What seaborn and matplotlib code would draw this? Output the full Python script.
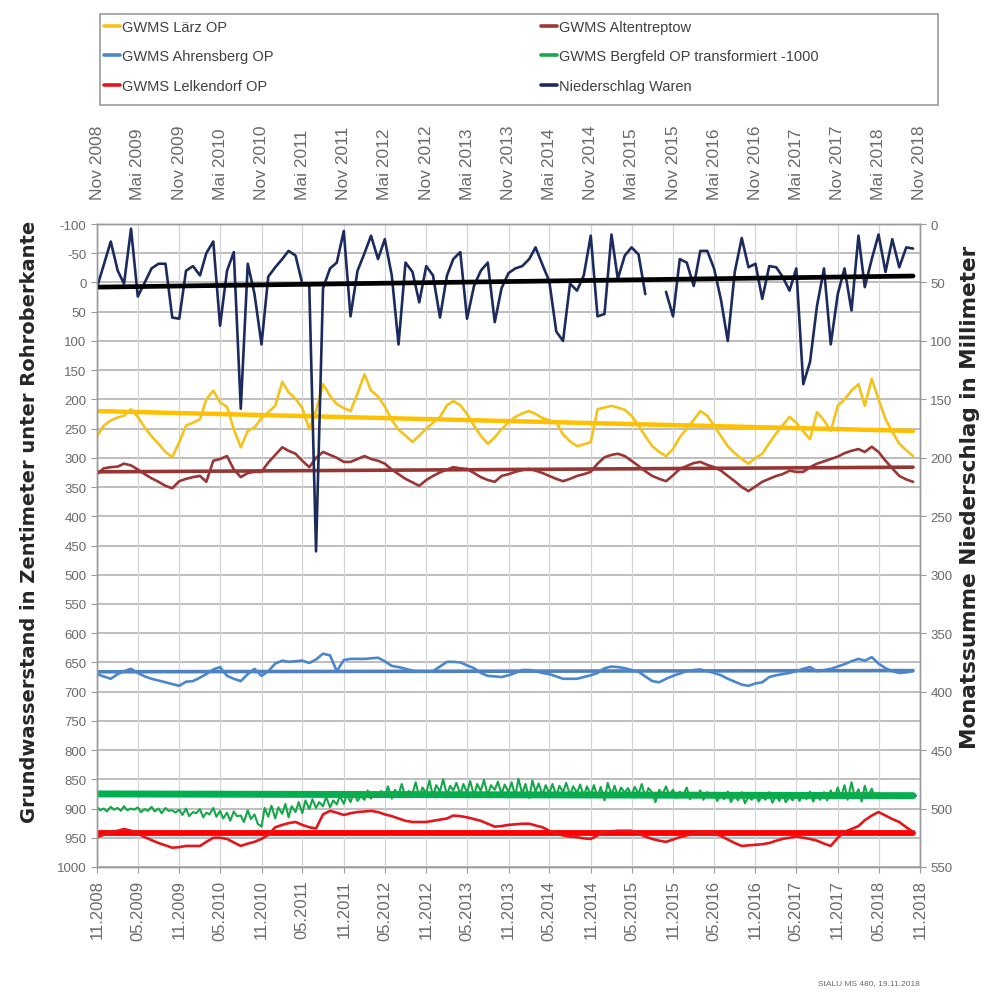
import numpy as np
import pandas as pd
import matplotlib
matplotlib.use("Agg")
import matplotlib.pyplot as plt
from matplotlib.patches import Rectangle
import seaborn as sns

# ---------------------------------------------------------------- data
months = pd.date_range("2008-11-01", periods=120, freq="MS")
half_months = pd.date_range("2008-11-01", periods=240, freq="SMS")
trend_dates = [months[0], months[-1]]

tick_dates = pd.date_range("2008-11-01", "2018-11-01", freq="6MS")
top_labels = ["Nov 2008", "Mai 2009", "Nov 2009", "Mai 2010", "Nov 2010", "Mai 2011",
              "Nov 2011", "Mai 2012", "Nov 2012", "Mai 2013", "Nov 2013", "Mai 2014",
              "Nov 2014", "Mai 2015", "Nov 2015", "Mai 2016", "Nov 2016", "Mai 2017",
              "Nov 2017", "Mai 2018", "Nov 2018"]
bottom_labels = ["11.2008", "05.2009", "11.2009", "05.2010", "11.2010", "05.2011",
                 "11.2011", "05.2012", "11.2012", "05.2013", "11.2013", "05.2014",
                 "11.2014", "05.2015", "11.2015", "05.2016", "11.2016", "05.2017",
                 "11.2017", "05.2018", "11.2018"]
left_ticks = list(range(-100, 1001, 50))
right_ticks = list(range(0, 551, 50))

# groundwater level, cm below top of pipe (monthly)
laerz = [263, 245, 236, 231, 228, 217, 230, 248, 263, 276, 290, 299,
         273, 245, 240, 234, 200, 185, 205, 213, 251, 282, 254, 248,
         232, 222, 211, 170, 188, 199, 215, 251, 220, 174, 194, 208,
         215, 220, 190, 157, 185, 195, 212, 235, 252, 262, 273, 262,
         250, 240, 230, 210, 203, 210, 225, 245, 262, 276, 265, 251,
         240, 230, 224, 220, 225, 232, 236, 239, 260, 272, 280, 277,
         273, 217, 214, 211, 214, 218, 228, 245, 263, 280, 290, 297,
         285, 265, 250, 235, 220, 228, 245, 263, 280, 292, 302, 310,
         300, 293, 275, 258, 245, 230, 240, 255, 268, 222, 236, 254,
         211, 200, 185, 174, 211, 165, 200, 234, 255, 276, 287, 297]

altentreptow = [328, 318, 316, 315, 310, 313, 320, 328, 335, 341, 348, 352,
                340, 336, 333, 331, 341, 305, 302, 297, 320, 333, 326, 324,
                324, 308, 295, 282, 288, 293, 305, 316, 300, 290, 295, 300,
                307, 307, 302, 297, 302, 305, 310, 320, 328, 336, 342, 348,
                338, 331, 325, 320, 316, 318, 319, 326, 333, 338, 341, 331,
                328, 324, 321, 319, 322, 326, 331, 336, 340, 336, 331, 328,
                324, 310, 299, 295, 293, 297, 305, 314, 323, 331, 336, 340,
                330, 319, 314, 309, 307, 312, 316, 322, 331, 340, 350, 357,
                349, 341, 336, 331, 328, 322, 324, 324, 316, 310, 306, 302,
                298, 292, 288, 285, 290, 281, 290, 305, 318, 331, 337, 341]

ahrensberg = [670, 674, 678, 670, 665, 661, 668, 674, 678, 681, 684, 687,
              690, 683, 682, 676, 670, 662, 658, 673, 678, 682, 670, 661,
              673, 665, 652, 647, 649, 648, 647, 651, 645, 635, 638, 665,
              646, 644, 644, 644, 643, 642, 648, 656, 658, 661, 664, 666,
              666, 665, 657, 649, 649, 650, 655, 660, 668, 673, 674, 675,
              672, 668, 663, 663, 665, 668, 670, 674, 678, 678, 678, 675,
              672, 668, 660, 657, 658, 660, 663, 666, 674, 682, 684, 678,
              673, 669, 665, 663, 662, 665, 668, 672, 678, 683, 688, 690,
              686, 684, 675, 672, 670, 668, 665, 661, 658, 665, 663, 661,
              657, 653, 648, 644, 647, 641, 652, 660, 665, 668, 667, 665]

# Bergfeld, shifted by -1000 cm (half-monthly readings)
bergfeld = [897, 903, 900, 905, 897, 902, 899, 904, 896, 903, 900, 902,
            898, 906, 901, 904, 897, 905, 900, 908, 899, 904, 903, 907,
            902, 911, 900, 913, 906, 908, 901, 915, 907, 910, 899, 914,
            904, 917, 907, 921, 905, 913, 912, 923, 903, 918, 910, 926,
            931, 899, 914, 895, 917, 898, 909, 892, 915, 896, 906, 889,
            908, 886, 901, 884, 899, 889, 896, 880, 898, 886, 893, 878,
            892, 876, 889, 873, 887, 879, 885, 869, 883, 874, 881, 870,
            879, 862, 883, 868, 876, 858, 881, 870, 874, 855, 880, 864,
            874, 852, 879, 860, 871, 850, 877, 861, 869, 856, 876, 858,
            873, 853, 878, 858, 870, 851, 877, 860, 868, 854, 875, 859,
            872, 855, 879, 849, 875, 858, 882, 852, 871, 857, 877, 860,
            874, 858, 878, 861, 872, 856, 877, 862, 873, 859, 879, 862,
            877, 860, 881, 863, 886, 856, 876, 861, 879, 864, 873, 865,
            878, 863, 875, 858, 880, 865, 873, 889, 868, 876, 862, 877,
            868, 882, 871, 879, 864, 884, 873, 881, 869, 885, 872, 880,
            873, 887, 876, 884, 871, 889, 877, 886, 872, 891, 879, 885,
            874, 888, 877, 885, 872, 890, 878, 887, 873, 889, 880, 886,
            873, 887, 876, 884, 871, 888, 875, 885, 872, 886, 869, 883,
            864, 881, 860, 885, 855, 880, 867, 888, 861, 879, 866, 882,
            873, 882, 875, 881, 874, 880, 876, 881, 875, 880, 876, 878]

lelkendorf = [949, 945, 940, 938, 935, 938, 943, 949, 954, 959, 963, 967,
              966, 964, 964, 964, 957, 950, 950, 952, 958, 964, 960, 957,
              952, 945, 932, 928, 925, 923, 928, 932, 934, 910, 904, 907,
              911, 908, 906, 905, 904, 906, 910, 913, 917, 921, 923, 923,
              923, 921, 919, 917, 912, 913, 915, 918, 921, 926, 931, 930,
              928, 927, 926, 926, 929, 932, 938, 943, 946, 948, 949, 951,
              952, 946, 940, 939, 938, 938, 938, 943, 948, 952, 955, 957,
              953, 949, 946, 943, 941, 940, 943, 947, 953, 959, 964, 963,
              962, 961, 959, 955, 952, 950, 948, 950, 952, 955, 960, 964,
              950, 940, 935, 930, 920, 912, 906, 912, 918, 923, 932, 940]

# monthly precipitation sum at Waren, mm (no record for two months in 2015)
niederschlag = [54, 35, 15, 40, 51, 4, 62, 50, 38, 34, 34, 80,
                81, 40, 36, 44, 25, 15, 87, 40, 24, 158, 34, 60,
                103, 45, 37, 30, 23, 27, 51, 53, 280, 55, 38, 33,
                6, 79, 40, 25, 10, 30, 13, 44, 103, 33, 41, 67,
                36, 44, 80, 44, 30, 24, 81, 53, 40, 33, 84, 55,
                42, 38, 36, 30, 20, 35, 49, 92, 100, 51, 57, 44,
                10, 79, 77, 9, 47, 27, 20, 26, 60, np.nan, np.nan, 58,
                79, 30, 33, 53, 23, 23, 38, 65, 100, 41, 12, 37,
                34, 64, 36, 37, 45, 57, 38, 137, 118, 70, 38, 103,
                60, 38, 74, 10, 54, 30, 9, 41, 13, 37, 20, 21]

# linear trends (start / end value)
laerz_trend = [220, 254]
altentreptow_trend = [324, 316]
ahrensberg_trend = [666, 664]
bergfeld_trend = [875, 878]
lelkendorf_trend = [942, 942]
niederschlag_trend = [54, 44.5]

# ---------------------------------------------------------------- style
sns.set_style("white")
plt.rcParams["font.family"] = ["Liberation Sans", "DejaVu Sans"]

GRID_H = "#ABABAB"
GRID_V = "#D4D4D4"
AXIS_C = "#9A9A9A"
TEXT_C = "#6A6A6A"

fig = plt.figure(figsize=(9.86, 9.95), dpi=100)
ax = fig.add_axes([97 / 986, 1 - 868 / 995, 823 / 986, 643 / 995])
ax2 = ax.twinx()

# ---------------------------------------------------------------- series
series = [
    ("GWMS Lärz OP", months, laerz, laerz_trend, "#F3C21B", "#FFC000", 3.2),
    ("GWMS Altentreptow", months, altentreptow, altentreptow_trend, "#9C3535", "#943634", 2.6),
    ("GWMS Ahrensberg OP", months, ahrensberg, ahrensberg_trend, "#4C86CB", "#4F81BD", 2.6),
    ("GWMS Bergfeld OP transformiert -1000", half_months, bergfeld, bergfeld_trend, "#14A84A", "#00B050", 5.0),
    ("GWMS Lelkendorf OP", months, lelkendorf, lelkendorf_trend, "#E3161B", "#FF0000", 4.2),
]

for name, dates, values, trend, color, tcolor, tlw in series:
    sns.lineplot(x=trend_dates, y=trend, ax=ax, color=tcolor, linewidth=tlw,
                 label="_nolegend_", zorder=2)

for name, dates, values, trend, color, tcolor, tlw in series:
    lw = 1.5 if dates is half_months else 1.9
    sns.lineplot(x=dates, y=values, ax=ax, color=color, linewidth=lw, label=name, zorder=3)

precip = pd.DataFrame({"date": months, "mm": niederschlag})
precip["segment"] = precip["mm"].isna().cumsum()
precip = precip.dropna()
sns.lineplot(data=precip, x="date", y="mm", units="segment", estimator=None, ax=ax2,
             color="#1C2B5E", linewidth=1.9, label="Niederschlag Waren")
sns.lineplot(x=trend_dates, y=niederschlag_trend, ax=ax2, color="#000000",
             linewidth=3.4, label="_nolegend_")

for a in (ax, ax2):
    if a.get_legend() is not None:
        a.get_legend().remove()

# ---------------------------------------------------------------- axes
ax.set_xlim(pd.Timestamp("2008-11-01"), pd.Timestamp("2018-11-01"))
ax.set_ylim(1000, -100)
ax2.set_ylim(550, 0)

ax.set_yticks(left_ticks)
ax.set_yticklabels([str(v) for v in left_ticks])
ax2.set_yticks(right_ticks)
ax2.set_yticklabels([str(v) for v in right_ticks])

ax.set_xticks(tick_dates)
ax.set_xticklabels(bottom_labels, rotation=90)
top = ax.secondary_xaxis("top")
top.set_xticks(tick_dates)
top.set_xticklabels(top_labels, rotation=90)

ax.set_xlabel("")
ax.set_ylabel("")
ax2.set_ylabel("")

ax.grid(False)
ax2.grid(False)
for v in left_ticks:
    ax.axhline(v, color=GRID_H, linewidth=1.1, zorder=0)
for d in tick_dates:
    ax.axvline(d, color=GRID_V, linewidth=0.9, zorder=0)

for a in (ax, ax2):
    for s in a.spines.values():
        s.set_color(AXIS_C)
        s.set_linewidth(1.0)
for s in top.spines.values():
    s.set_color(AXIS_C)

ax.tick_params(axis="y", colors=TEXT_C, labelsize=9.5, length=4, color=AXIS_C, direction="out", left=True)
ax2.tick_params(axis="y", colors=TEXT_C, labelsize=9.5, length=4, color=AXIS_C, direction="out", right=True)
ax.tick_params(axis="x", colors=TEXT_C, labelsize=12, length=4, color=AXIS_C, direction="out", bottom=True, pad=5)
top.tick_params(axis="x", colors=TEXT_C, labelsize=12.5, length=0, pad=18)

# ---------------------------------------------------------------- titles
fig.text(30 / 986, 1 - 522 / 995, "Grundwasserstand in Zentimeter unter Rohroberkante",
         rotation=90, ha="center", va="center", fontsize=14, fontweight="bold",
         family="DejaVu Sans", color="#262626")
fig.text(970 / 986, 1 - 497 / 995, "Monatssumme Niederschlag in Millimeter",
         rotation=90, ha="center", va="center", fontsize=15.5, fontweight="bold",
         family="DejaVu Sans", color="#262626")
fig.text(920 / 986, 1 - 984 / 995, "StALU MS 480, 19.11.2018", ha="right", va="center",
         fontsize=6, color=TEXT_C)

# ---------------------------------------------------------------- legend
h1, l1 = ax.get_legend_handles_labels()
h2, l2 = ax2.get_legend_handles_labels()
handles = dict(zip(l1 + l2, h1 + h2))
col1 = ["GWMS Lärz OP", "GWMS Ahrensberg OP", "GWMS Lelkendorf OP"]
col2 = ["GWMS Altentreptow", "GWMS Bergfeld OP transformiert -1000", "Niederschlag Waren"]

fig.add_artist(Rectangle((100 / 986, 1 - 106 / 995), 838 / 986, 91 / 995,
                         transform=fig.transFigure, fill=False, edgecolor=AXIS_C, linewidth=1.2))
leg_kw = dict(frameon=False, fontsize=10.5, handlelength=1.1, handletextpad=0.15,
              labelspacing=1.05, borderaxespad=0, borderpad=0, labelcolor="#404040")
leg1 = fig.legend([handles[k] for k in col1], col1, loc="upper left",
                  bbox_to_anchor=(104 / 986, 1 - 21 / 995), **leg_kw)
leg2 = fig.legend([handles[k] for k in col2], col2, loc="upper left",
                  bbox_to_anchor=(541 / 986, 1 - 21 / 995), **leg_kw)
for leg in (leg1, leg2):
    for line in leg.get_lines():
        line.set_linewidth(2.6)

fig.savefig("out.png", dpi=100)
